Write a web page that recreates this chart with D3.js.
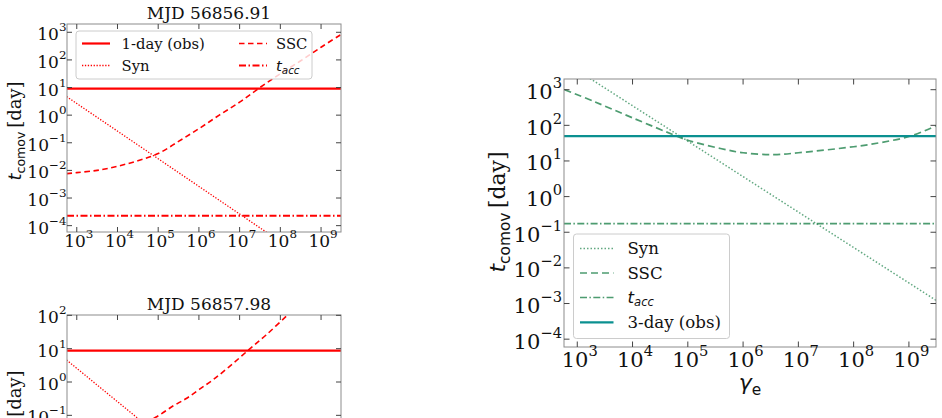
<!DOCTYPE html>
<html>
<head>
<meta charset="utf-8">
<script src="https://cdn.jsdelivr.net/npm/d3@7"></script>
<style>
  html, body { margin: 0; padding: 0; background: #fff; }
  svg { display: block; }
</style>
</head>
<body>
<svg id="chart" width="942" height="418"></svg>
<script>
// ---------------- DATA ----------------
const gammaTicks = [1e3, 1e4, 1e5, 1e6, 1e7, 1e8, 1e9];
const yTicksTall = [1e-4, 1e-3, 1e-2, 1e-1, 1e0, 1e1, 1e2, 1e3];
const yTicksShort = [1e-4, 1e-3, 1e-2, 1e-1, 1e0, 1e1, 1e2];
const gammaRange = [10 ** 2.76, 10 ** 9.49];

// Panel A : MJD 56856.91
const titleA = "MJD 56856.91";
const obsA = 9.1;            // 1-day (obs)
const accA = 2.3e-4;         // t_acc
const synA_g = [562, 3.09e9];
const synA_t = [4.7, 8.5e-7];
const sscA_g = [562, 1e3, 3.16e3, 1e4, 3.16e4, 1e5, 3.16e5, 1e6, 3.16e6, 1e7, 3.16e7, 1e8, 3.16e8, 1e9, 3.09e9];
const sscA_t = [7.6e-3, 8.3e-3, 1.0e-2, 1.41e-2, 2.24e-2, 4.07e-2, 0.112, 0.324, 1.0, 2.95, 10, 31.6, 93, 288, 832];

// Panel B : MJD 56857.98
const titleB = "MJD 56857.98";
const obsB = 8.7;
const accB = 2.3e-4;
const synB_g = [562, 3.09e9];
const synB_t = [4.57, 8.3e-7];
const sscB_g = [562, 1e3, 3.16e3, 1e4, 3.16e4, 8.9e4, 2.3e5, 4.9e5, 1.02e6, 2.19e6, 5.6e6, 1.58e7, 4.47e7, 1.51e8, 3.16e8, 1e9, 3.09e9];
const sscB_t = [1.8e-2, 1.9e-2, 2.5e-2, 3.5e-2, 5.2e-2, 0.089, 0.19, 0.32, 0.60, 1.15, 2.9, 8.7, 25.7, 102, 224, 794, 2512];

// Panel C : right
const obsC = 50;             // 3-day (obs)
const accC = 0.174;
const synC_g = [562, 3.09e9];
const synC_t = [6.2e3, 1.23e-3];
const sscC_g = [589, 2000, 1e4, 6.46e4, 1e5, 3.9e5, 1e6, 3.63e6, 1e7, 1e8, 3.16e8, 1.07e9, 3.16e9];
const sscC_t = [1000, 468, 162, 49, 38, 22.4, 17, 15.1, 17, 25.1, 33, 50, 97.7];

const legendA = ["1-day (obs)", "Syn", "SSC", "acc"];
const legendC = ["Syn", "SSC", "acc", "3-day (obs)"];

// ---------------- DRAWING ----------------
const svg = d3.select("#chart");
const SERIF = "'DejaVu Serif', serif";
const SANS = "'DejaVu Sans', sans-serif";
const RED = "#ff0000";
const GREEN = "#2e8b57";
const TEAL = "#0a9090";

function zip(g, t) { return g.map((d, i) => ({ g: d, t: t[i] })); }

let clipId = 0;
function panel(cfg) {
  const x = d3.scaleLog().domain(gammaRange).range([cfg.x0, cfg.x1]);
  const y = d3.scaleLog().domain(cfg.yDom).range([cfg.y1, cfg.y0]);
  const g = svg.append("g");
  const id = "clip" + (clipId++);
  g.append("clipPath").attr("id", id).append("rect")
    .attr("x", cfg.x0).attr("y", cfg.y0)
    .attr("width", cfg.x1 - cfg.x0).attr("height", cfg.y1 - cfg.y0);
  const plot = g.append("g").attr("clip-path", `url(#${id})`);
  const line = d3.line().x(d => x(d.g)).y(d => y(d.t)).curve(d3.curveCatmullRom.alpha(0.5));

  cfg.series.forEach(s => {
    let pts;
    if (s.h !== undefined) pts = [{ g: gammaRange[0], t: s.h }, { g: gammaRange[1], t: s.h }];
    else pts = zip(s.gx, s.ty);
    plot.append("path").attr("d", line(pts))
      .attr("fill", "none").attr("stroke", s.color)
      .attr("stroke-width", s.w).attr("stroke-opacity", s.op || 1)
      .attr("stroke-dasharray", s.dash || null);
  });

  // frame
  g.append("rect").attr("x", cfg.x0).attr("y", cfg.y0)
    .attr("width", cfg.x1 - cfg.x0).attr("height", cfg.y1 - cfg.y0)
    .attr("fill", "none").attr("stroke", "#8c8c8c").attr("stroke-width", 1);

  // ticks (inward, all sides)
  const tl = cfg.tickLen;
  const tk = g.append("g").attr("stroke", "#444").attr("stroke-width", 1);
  gammaTicks.forEach(v => {
    const px = x(v);
    tk.append("line").attr("x1", px).attr("x2", px).attr("y1", cfg.y1).attr("y2", cfg.y1 - tl);
    tk.append("line").attr("x1", px).attr("x2", px).attr("y1", cfg.y0).attr("y2", cfg.y0 + tl);
  });
  cfg.yTicks.forEach(v => {
    const py = y(v);
    tk.append("line").attr("x1", cfg.x0).attr("x2", cfg.x0 + tl).attr("y1", py).attr("y2", py);
    tk.append("line").attr("x1", cfg.x1).attr("x2", cfg.x1 - tl).attr("y1", py).attr("y2", py);
  });

  function pow10(sel, v) {
    const e = Math.round(Math.log10(v));
    sel.append("tspan").text("10");
    sel.append("tspan").attr("font-size", "0.7em").attr("dy", "-0.75em")
      .text(e < 0 ? "\u2212" + (-e) : String(e));
  }
  const fs = cfg.tickFont;
  gammaTicks.forEach(v => {
    const t = g.append("text").attr("x", x(v) + fs * 0.12).attr("y", cfg.y1 + cfg.xLabOff)
      .attr("text-anchor", "middle").attr("font-family", SERIF).attr("font-size", fs)
      .attr("fill", "#111");
    pow10(t, v);
  });
  cfg.yTicks.forEach(v => {
    const t = g.append("text").attr("x", cfg.x0 - cfg.yLabGap).attr("y", y(v) + cfg.yLabOff)
      .attr("text-anchor", "end").attr("font-family", SERIF).attr("font-size", fs)
      .attr("fill", "#111");
    pow10(t, v);
  });

  // y label
  const yl = g.append("text")
    .attr("transform", `translate(${cfg.ylabX},${cfg.ylabY}) rotate(-90)`)
    .attr("text-anchor", "middle").attr("font-size", cfg.labFont).attr("fill", "#111");
  yl.append("tspan").attr("font-family", SANS).attr("font-style", "italic").text("t");
  yl.append("tspan").attr("font-family", SANS).attr("font-size", "0.7em").attr("dy", "0.3em").text("comov");
  yl.append("tspan").attr("font-family", SERIF).attr("dy", "-0.21em").text("\u2009[day]");

  if (cfg.title) {
    g.append("text").attr("x", cfg.titleX).attr("y", cfg.y0 - 5)
      .attr("text-anchor", "middle").attr("font-family", SERIF).attr("font-size", 17)
      .attr("fill", "#111").text(cfg.title);
  }
  return { x, y, g };
}

function accLabel(sel) {
  sel.append("tspan").attr("font-family", SANS).attr("font-style", "italic").text("t");
  sel.append("tspan").attr("font-family", SANS).attr("font-style", "italic")
    .attr("font-size", "0.7em").attr("dy", "0.3em").text("acc");
}

// ---- Panel A
const serA = [
  { h: obsA, color: RED, w: 2.2 },
  { gx: synA_g, ty: synA_t, color: RED, w: 1.3, dash: "1.3,1.6" },
  { gx: sscA_g, ty: sscA_t, color: RED, w: 1.6, dash: "5.5,3.5" },
  { h: accA, color: RED, w: 2, dash: "7,2.5,1.5,2.5" }
];
panel({ x0: 67, x1: 341, y0: 24, y1: 232, yDom: [10 ** -4.23, 10 ** 3.30],
  yTicks: yTicksTall, series: serA, tickLen: 5, tickFont: 17, xLabOff: 15, yLabOff: 8, yLabGap: 0.5,
  labFont: 18, ylabX: 21, ylabY: 131, title: titleA, titleX: 209 });

// legend A
{
  const lg = svg.append("g");
  lg.append("rect").attr("x", 76).attr("y", 31).attr("width", 236).attr("height", 48)
    .attr("rx", 3).attr("fill", "#fff").attr("fill-opacity", 0.8)
    .attr("stroke", "#cccccc").attr("stroke-width", 1);
  const items = [
    { c: 0, r: 0, s: serA[0], label: legendA[0] },
    { c: 0, r: 1, s: serA[1], label: legendA[1] },
    { c: 1, r: 0, s: serA[2], label: legendA[2] },
    { c: 1, r: 1, s: serA[3], label: legendA[3], acc: true }
  ];
  const cols = [{ h0: 82, h1: 110, tx: 121.5 }, { h0: 239, h1: 267, tx: 276 }];
  const rows = [43.5, 65.5];
  items.forEach(it => {
    const c = cols[it.c], ry = rows[it.r];
    lg.append("line").attr("x1", c.h0).attr("x2", c.h1).attr("y1", ry).attr("y2", ry)
      .attr("stroke", it.s.color).attr("stroke-width", it.s.w)
      .attr("stroke-dasharray", it.s.dash || null);
    const t = lg.append("text").attr("x", c.tx).attr("y", ry + 5)
      .attr("font-family", SERIF).attr("font-size", 14.8).attr("fill", "#111");
    if (it.acc) accLabel(t); else t.text(it.label);
  });
}

// ---- Panel B
const serB = [
  { h: obsB, color: RED, w: 2.2 },
  { gx: synB_g, ty: synB_t, color: RED, w: 1.3, dash: "1.3,1.6" },
  { gx: sscB_g, ty: sscB_t, color: RED, w: 1.6, dash: "5.5,3.5" },
  { h: accB, color: RED, w: 2, dash: "7,2.5,1.5,2.5" }
];
panel({ x0: 67, x1: 341, y0: 315, y1: 522, yDom: [10 ** -4.2, 10 ** 2.01],
  yTicks: yTicksShort, series: serB, tickLen: 5, tickFont: 17, xLabOff: 15, yLabOff: 8, yLabGap: 0.5,
  labFont: 18, ylabX: 21, ylabY: 420, title: titleB, titleX: 209 });

// ---- Panel C
const serC = [
  { gx: synC_g, ty: synC_t, color: GREEN, w: 1.5, op: 0.75, dash: "1.5,2" },
  { gx: sscC_g, ty: sscC_t, color: GREEN, w: 1.7, op: 0.85, dash: "7,4" },
  { h: accC, color: GREEN, w: 1.6, op: 0.85, dash: "7,2.4,1.5,2.4" },
  { h: obsC, color: TEAL, w: 2.2 }
];
panel({ x0: 564, x1: 936, y0: 79, y1: 347, yDom: [10 ** -4.22, 10 ** 3.30],
  yTicks: yTicksTall, series: serC, tickLen: 5.5, tickFont: 21, xLabOff: 20, yLabOff: 9.5, yLabGap: 2,
  labFont: 22, ylabX: 505, ylabY: 212 });

// x label
{
  const xl = svg.append("text").attr("x", 750).attr("y", 390)
    .attr("text-anchor", "middle").attr("font-size", 22).attr("fill", "#111");
  xl.append("tspan").attr("font-family", SANS).attr("font-style", "italic").text("\u03b3");
  xl.append("tspan").attr("font-family", SANS).attr("font-size", "0.7em").attr("dy", "0.3em").text("e");
}

// legend C
{
  const lg = svg.append("g");
  lg.append("rect").attr("x", 573.5).attr("y", 234).attr("width", 156).attr("height", 104.5)
    .attr("rx", 3).attr("fill", "#fff").attr("fill-opacity", 0.8)
    .attr("stroke", "#cccccc").attr("stroke-width", 1);
  const rows = [248.5, 273, 297.5, 322.3];
  serC.forEach((s, i) => {
    const ry = rows[i];
    lg.append("line").attr("x1", 580).attr("x2", 613.5).attr("y1", ry).attr("y2", ry)
      .attr("stroke", s.color).attr("stroke-width", s.w).attr("stroke-opacity", s.op || 1)
      .attr("stroke-dasharray", s.dash || null);
    const t = lg.append("text").attr("x", 627.5).attr("y", ry + 5.5)
      .attr("font-family", SERIF).attr("font-size", 16.6).attr("fill", "#111");
    if (legendC[i] === "acc") accLabel(t); else t.text(legendC[i]);
  });
}
</script>
</body>
</html>
